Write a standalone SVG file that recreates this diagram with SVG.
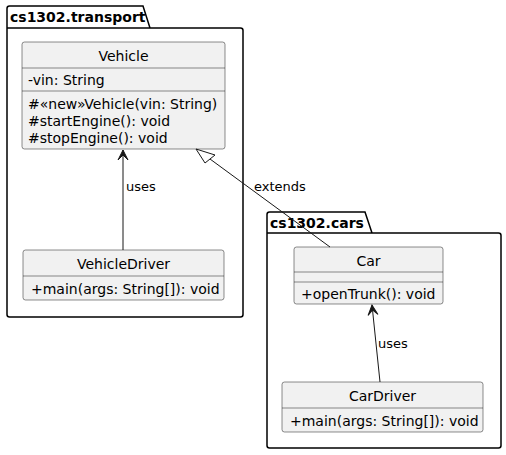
<svg xmlns="http://www.w3.org/2000/svg" width="506" height="455" viewBox="0 0 506 455">
<defs>
<style>
text{font-family:"DejaVu Sans",sans-serif;fill:#000}
.pkg{fill:none;stroke:#000;stroke-width:1.5}
.pt{font-weight:bold;font-size:14px}
.cls{fill:#F1F1F1;stroke:#181818;stroke-width:0.5}
.sep{stroke:#181818;stroke-width:0.5}
.cn{font-size:14px;text-anchor:middle}
.m{font-size:14px}
.lbl{font-size:13px}
.edge{stroke:#181818;stroke-width:1;fill:none}
</style>
<marker id="arr" viewBox="0 0 12 12" refX="11" refY="6" markerWidth="12" markerHeight="12" orient="auto" markerUnits="userSpaceOnUse">
<path d="M1,1 L11,6 L1,11 L6,6 Z" fill="#181818" stroke="#181818" stroke-width="1"/>
</marker>
</defs>
<g id="pkg-transport">
<path class="pkg" d="M7,28 L7,8.5 Q7,6 9.5,6 L143,6 L150,28 L240.5,28 Q243,28 243,30.5 L243,314.5 Q243,317 240.5,317 L9.5,317 Q7,317 7,314.5 Z M7,28 L150,28"/>
<text class="pt" x="10" y="22">cs1302.transport</text>
</g>
<g id="pkg-cars">
<path class="pkg" d="M267,233 L267,214.5 Q267,212 269.5,212 L365,212 L372,233 L498.5,233 Q501,233 501,235.5 L501,445.5 Q501,448 498.5,448 L269.5,448 Q267,448 267,445.5 Z M267,233 L372,233"/>
<text class="pt" x="270" y="228">cs1302.cars</text>
</g>
<g id="Vehicle">
<rect class="cls" x="22" y="42" width="203" height="107" rx="2.5"/>
<text class="cn" x="123.5" y="61">Vehicle</text>
<line class="sep" x1="22" y1="68" x2="225" y2="68"/>
<text class="m" x="28" y="85">-vin: String</text>
<line class="sep" x1="22" y1="91" x2="225" y2="91"/>
<text class="m" x="28" y="109">#«new»Vehicle(vin: String)</text>
<text class="m" x="28" y="126">#startEngine(): void</text>
<text class="m" x="28" y="143">#stopEngine(): void</text>
</g>
<g id="VehicleDriver">
<rect class="cls" x="23" y="250" width="201" height="50" rx="2.5"/>
<text class="cn" x="123.5" y="269">VehicleDriver</text>
<line class="sep" x1="23" y1="276" x2="224" y2="276"/>
<text class="m" x="31" y="294">+main(args: String[]): void</text>
</g>
<g id="Car">
<rect class="cls" x="294" y="247" width="149" height="57" rx="2.5"/>
<text class="cn" x="368.5" y="266">Car</text>
<line class="sep" x1="294" y1="272" x2="443" y2="272"/>
<line class="sep" x1="294" y1="282" x2="443" y2="282"/>
<text class="m" x="301" y="299">+openTrunk(): void</text>
</g>
<g id="CarDriver">
<rect class="cls" x="282" y="382" width="201" height="50" rx="2.5"/>
<text class="cn" x="382.5" y="401">CarDriver</text>
<line class="sep" x1="282" y1="408" x2="483" y2="408"/>
<text class="m" x="290" y="426">+main(args: String[]): void</text>
</g>
<g id="connectors">
<line class="edge" x1="123" y1="250" x2="123" y2="150" marker-end="url(#arr)"/>
<text class="lbl" x="126" y="191">uses</text>
<line class="edge" x1="330" y1="247" x2="210" y2="159"/>
<path d="M196,149 L215,155 L205,163 Z" fill="none" stroke="#181818" stroke-width="1"/>
<text class="lbl" x="254" y="191">extends</text>
<line class="edge" x1="380" y1="382" x2="372" y2="305" marker-end="url(#arr)"/>
<text class="lbl" x="378" y="348">uses</text>
</g>
</svg>
